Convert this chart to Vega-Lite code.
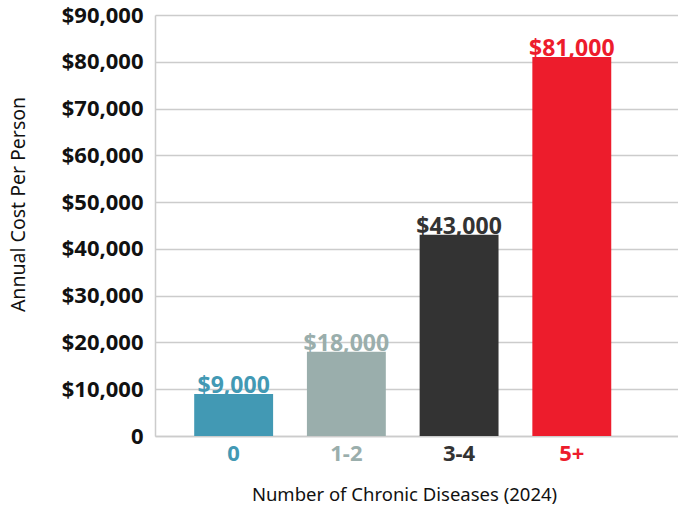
{
  "$schema": "https://vega.github.io/schema/vega-lite/v6.json",
  "autosize": "none",
  "width": 523,
  "height": 421,
  "padding": {"left": 155, "top": 15, "right": 0, "bottom": 70},
  "background": "white",
  "config": {
    "view": {"stroke": null},
    "font": "Noto Sans"
  },
  "data": {
    "values": [
      {"group": "0", "cost": 9000, "label": "$9,000"},
      {"group": "1-2", "cost": 18000, "label": "$18,000"},
      {"group": "3-4", "cost": 43000, "label": "$43,000"},
      {"group": "5+", "cost": 81000, "label": "$81,000"}
    ]
  },
  "encoding": {
    "x": {
      "field": "group",
      "type": "nominal",
      "sort": null,
      "scale": {"paddingInner": 0.3, "paddingOuter": 0.47, "align": 0.37},
      "axis": {
        "title": "Number of Chronic Diseases (2024)",
        "titleFont": "Noto Sans",
        "titleFontSize": 18.5,
        "titleFontWeight": "normal",
        "titleColor": "#111111",
        "titleX": 249,
        "titleY": 58,
        "titleBaseline": "middle",
        "labelAngle": 0,
        "labelFontSize": 22,
        "labelFontWeight": "bold",
        "labelPadding": 7,
        "labelColor": {"condition": [
          {"test": "datum.value === '0'", "value": "#4299b4"},
          {"test": "datum.value === '1-2'", "value": "#9aaeac"},
          {"test": "datum.value === '3-4'", "value": "#333333"}
        ], "value": "#ed1c2c"},
        "ticks": false,
        "domainColor": "#cccccc",
        "domainWidth": 1.5
      }
    },
    "y": {
      "field": "cost",
      "type": "quantitative",
      "scale": {"domain": [0, 90000], "nice": false},
      "axis": {
        "title": "Annual Cost Per Person",
        "titleFont": "Noto Sans",
        "titleFontSize": 19.5,
        "titleFontWeight": "normal",
        "titleColor": "#111111",
        "titleX": -137,
        "titleY": 189,
        "titleAngle": -90,
        "titleAlign": "center",
        "titleBaseline": "middle",
        "values": [0, 10000, 20000, 30000, 40000, 50000, 60000, 70000, 80000, 90000],
        "labelExpr": "datum.value === 0 ? '0' : '$' + format(datum.value, ',')",
        "labelFontSize": 22,
        "labelFontWeight": "bold",
        "labelColor": "#111111",
        "labelPadding": 12,
        "ticks": false,
        "grid": true,
        "gridColor": "#cccccc",
        "gridWidth": 1.5,
        "domainColor": "#cccccc",
        "domainWidth": 1.5
      }
    },
    "color": {
      "field": "group",
      "type": "nominal",
      "sort": null,
      "scale": {"domain": ["0", "1-2", "3-4", "5+"], "range": ["#4299b4", "#9aaeac", "#333333", "#ed1c2c"]},
      "legend": null
    }
  },
  "layer": [
    {"mark": {"type": "bar"}},
    {
      "mark": {"type": "text", "fontSize": 23, "fontWeight": "bold", "baseline": "alphabetic", "dy": -1},
      "encoding": {"text": {"field": "label"}}
    }
  ]
}
